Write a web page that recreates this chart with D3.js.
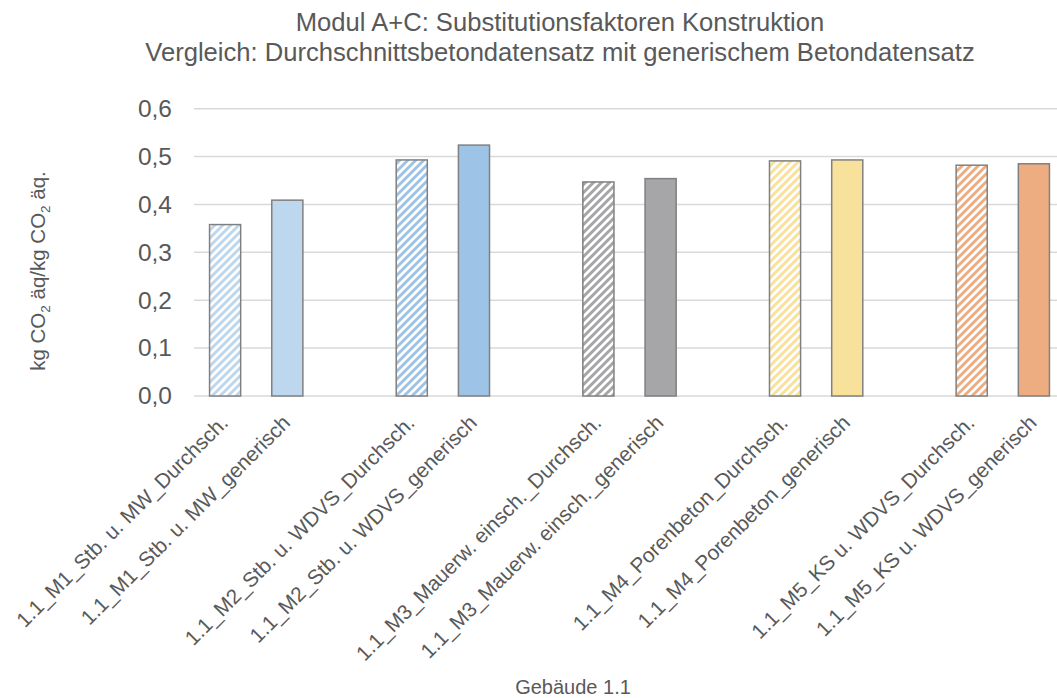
<!DOCTYPE html>
<html>
<head>
<meta charset="utf-8">
<script src="https://cdn.jsdelivr.net/npm/d3@7"></script>
<style>
  body { margin: 0; background: #fff; }
  text { font-family: "Liberation Sans", Arial, sans-serif; fill: #595959; }
</style>
</head>
<body>
<div id="vis-container"></div>
<script>
// data
const variants = ["1.1_M1_Stb. u. MW", "1.1_M2_Stb. u. WDVS", "1.1_M3_Mauerw. einsch.", "1.1_M4_Porenbeton", "1.1_M5_KS u. WDVS"];
const durchschValues = [0.358, 0.493, 0.447, 0.491, 0.482];
const generischValues = [0.409, 0.524, 0.454, 0.493, 0.485];
const yTicks = [0, 0.1, 0.2, 0.3, 0.4, 0.5, 0.6];

const palette = ["#BDD7EE", "#9DC3E6", "#A6A6A9", "#F8E19B", "#EEAD80"];

let width = 1057, height = 698;
let margin = {top: 108.7, bottom: 396, left: 194, right: 1065};

let svg = d3.select("#vis-container")
  .append("svg")
  .attr("width", width)
  .attr("height", height);

// build the slots: two bars per variant, an empty slot in between
let slots = [];
variants.forEach((v, i) => {
  slots.push({label: v + "_Durchsch.", value: durchschValues[i], color: palette[i], hatch: true});
  slots.push({label: v + "_generisch", value: generischValues[i], color: palette[i], hatch: false});
  if (i < variants.length - 1) slots.push({label: "", value: null});
});
slots.forEach((d, i) => d.key = i);

let x = d3.scaleBand()
  .domain(slots.map(d => d.key))
  .range([margin.left, margin.right])
  .paddingInner(0.5)
  .paddingOuter(0.25);

let y = d3.scaleLinear()
  .domain([0, 0.6])
  .range([margin.bottom, margin.top]);

let de = d3.formatLocale({decimal: ",", thousands: ".", grouping: [3], currency: ["", "€"]});
let fmt = de.format(".1f");

// hatch patterns
let defs = svg.append("defs");
palette.forEach((c, i) => {
  let p = defs.append("pattern")
    .attr("id", "hatch" + i)
    .attr("patternUnits", "userSpaceOnUse")
    .attr("width", 8)
    .attr("height", 8);
  p.append("rect").attr("width", 8).attr("height", 8).attr("fill", "#fff");
  p.append("path")
    .attr("d", "M-2,2 L2,-2 M0,8 L8,0 M6,10 L10,6")
    .attr("stroke", c)
    .attr("stroke-width", 3);
});

// gridlines
svg.append("g")
  .selectAll("line")
  .data(yTicks)
  .enter()
  .append("line")
  .attr("x1", margin.left)
  .attr("x2", margin.right)
  .attr("y1", d => y(d))
  .attr("y2", d => y(d))
  .attr("stroke", "#D9D9D9")
  .attr("stroke-width", 1.5);

// left axis labels
let leftAxis = d3.axisLeft(y)
  .tickValues(yTicks)
  .tickSize(0)
  .tickPadding(22)
  .tickFormat(fmt);

svg.append("g")
  .attr("class", "left axis")
  .attr("transform", `translate(${margin.left},0)`)
  .call(leftAxis)
  .call(g => g.select(".domain").remove())
  .selectAll("text")
    .attr("font-size", "24.5px")
    .attr("font-family", "Liberation Sans, Arial, sans-serif")
    .attr("fill", "#595959");

// bars
let bars = slots.filter(d => d.value !== null);
svg.append("g")
  .selectAll("rect")
  .data(bars)
  .enter()
  .append("rect")
  .attr("x", d => x(d.key))
  .attr("y", d => y(d.value))
  .attr("width", x.bandwidth())
  .attr("height", d => y(0) - y(d.value))
  .attr("fill", d => d.hatch ? `url(#hatch${palette.indexOf(d.color)})` : d.color)
  .attr("stroke", "#808080")
  .attr("stroke-width", 1.5);

// category labels
svg.append("g")
  .selectAll("text")
  .data(bars)
  .enter()
  .append("text")
  .attr("transform", d => `translate(${x(d.key) + x.bandwidth() / 2 - 1},${margin.bottom + 23}) rotate(-45)`)
  .attr("text-anchor", "end")
  .attr("dy", "0.35em")
  .attr("font-size", "20.8px")
  .text(d => d.label);

// title
let title = svg.append("text")
  .attr("x", 560)
  .attr("y", 31)
  .attr("text-anchor", "middle")
  .attr("font-size", "25.6px");
title.append("tspan").attr("x", 560).text("Modul A+C: Substitutionsfaktoren Konstruktion");
title.append("tspan").attr("x", 560).attr("dy", 30).text("Vergleich: Durchschnittsbetondatensatz mit generischem Betondatensatz");

// y axis title
let yt = svg.append("text")
  .attr("transform", "translate(45,271) rotate(-90)")
  .attr("text-anchor", "middle")
  .attr("font-size", "20.5px");
yt.append("tspan").text("kg CO");
yt.append("tspan").attr("font-size", "13.5px").attr("dy", 5).text("2");
yt.append("tspan").attr("dy", -5).text(" äq/kg CO");
yt.append("tspan").attr("font-size", "13.5px").attr("dy", 5).text("2");
yt.append("tspan").attr("dy", -5).text(" äq.");

// x axis title
svg.append("text")
  .attr("x", 573)
  .attr("y", 694)
  .attr("text-anchor", "middle")
  .attr("font-size", "20px")
  .text("Gebäude 1.1");
</script>
</body>
</html>
